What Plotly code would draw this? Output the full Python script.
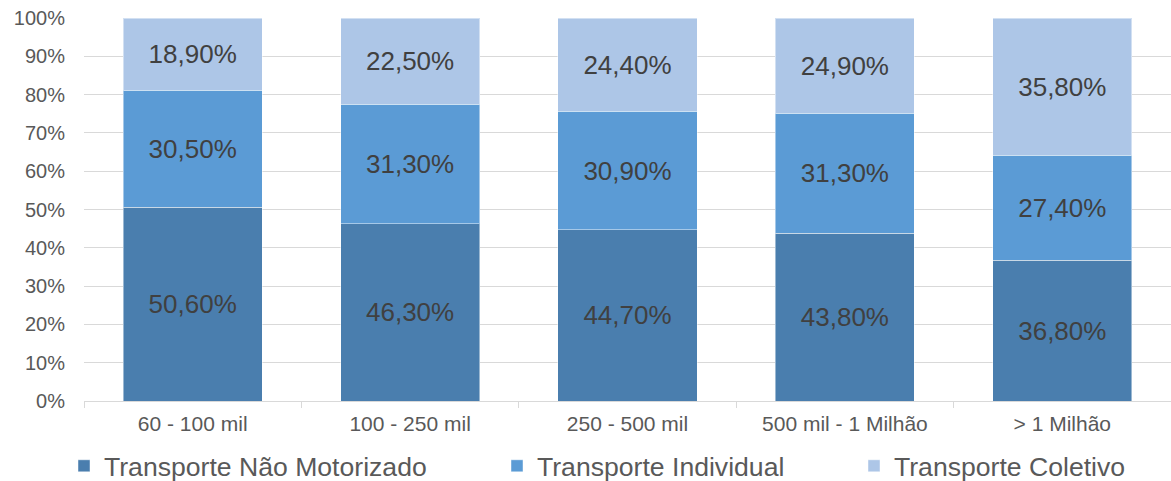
import plotly.graph_objects as go

categories = ["60 - 100 mil", "100 - 250 mil", "250 - 500 mil", "500 mil - 1 Milhão", "> 1 Milhão"]
nao_motorizado = [50.6, 46.3, 44.7, 43.8, 36.8]
individual = [30.5, 31.3, 30.9, 31.3, 27.4]
coletivo = [18.9, 22.5, 24.4, 24.9, 35.8]
series_names = ["Transporte Não Motorizado", "Transporte Individual", "Transporte Coletivo"]
y_ticks = [0, 10, 20, 30, 40, 50, 60, 70, 80, 90, 100]
y_tick_labels = [f"{v}%" for v in y_ticks]

colors = ["#4a7eae", "#5b9bd5", "#adc6e7"]
series = [nao_motorizado, individual, coletivo]
legend_ids = ["legend", "legend2", "legend3"]

def fmt(v):
    return f"{v:.2f}%".replace(".", ",")

fig = go.Figure()
for name, vals, col, lg in zip(series_names, series, colors, legend_ids):
    fig.add_trace(go.Bar(
        x=categories, y=vals, name=name, legend=lg, showlegend=True,
        marker=dict(color=col, line=dict(color="rgba(255,255,255,0.45)", width=1)),
        text=[fmt(v) for v in vals], textposition="inside", insidetextanchor="middle",
        textfont=dict(family="Liberation Sans, Arial", size=26, color="#404040"),
        hoverinfo="skip",
    ))

legend_common = dict(orientation="h", xref="container", yref="container",
                     yanchor="middle", font=dict(family="Liberation Sans, Arial", size=26.6, color="#595959"),
                     bgcolor="rgba(0,0,0,0)", itemwidth=30, tracegroupgap=0, visible=True)
lx = [78, 511, 868]
ly = (481 - 466) / 481
fig.update_layout(
    barmode="stack", barnorm="percent", bargap=0.36,
    width=1171, height=481,
    margin=dict(l=84, r=0, t=18, b=80),
    paper_bgcolor="white", plot_bgcolor="white",
    font=dict(family="Liberation Sans, Arial", color="#595959"),
    showlegend=True,
    legend=dict(x=(lx[0] - 14) / 1171, y=ly, **legend_common),
    legend2=dict(x=(lx[1] - 14) / 1171, y=ly, **legend_common),
    legend3=dict(x=(lx[2] - 14) / 1171, y=ly, **legend_common),
    xaxis=dict(showline=True, linecolor="#d9d9d9", linewidth=1, ticks="outside",
               tickson="boundaries", ticklen=6, tickcolor="#d9d9d9",
               tickfont=dict(size=21, color="#595959"), ticklabelstandoff=4, fixedrange=True),
    yaxis=dict(range=[0, 100], tickmode="array", tickvals=y_ticks, ticktext=y_tick_labels,
               showgrid=True, gridcolor="#d9d9d9", gridwidth=1, zeroline=False,
               tickfont=dict(size=20, color="#595959"), ticklabelstandoff=18, fixedrange=True),
)

fig.write_html("out.html")
